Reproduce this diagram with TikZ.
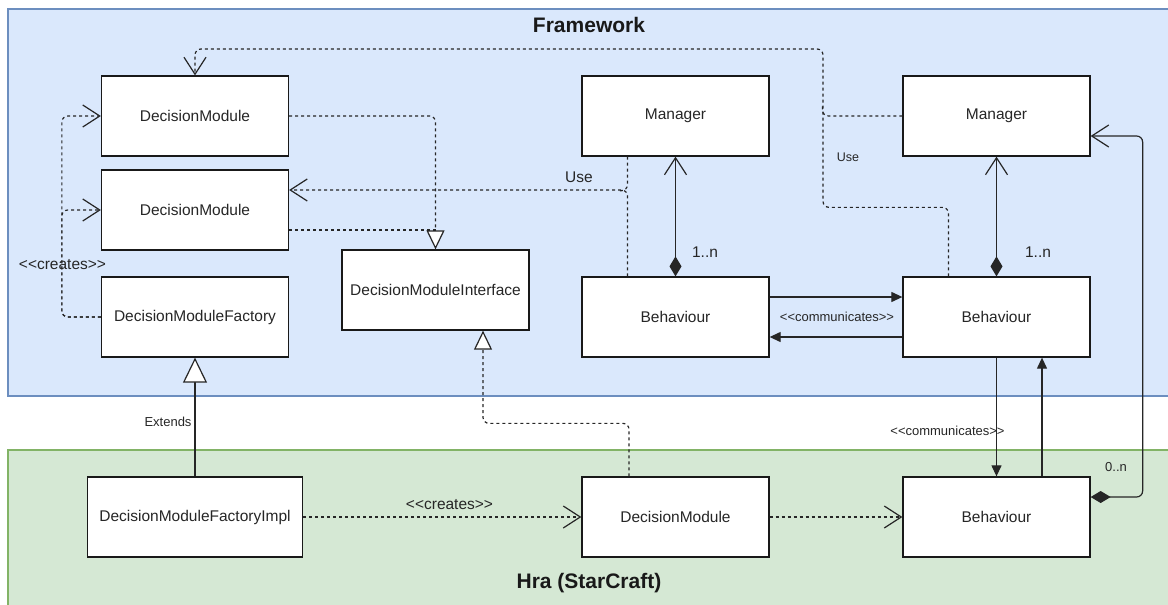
\documentclass[tikz,border=0pt]{standalone}
\usepackage{fontspec}
\setmainfont{Liberation Sans}
\usetikzlibrary{arrows.meta}

\definecolor{fwfill}{HTML}{DAE8FC}
\definecolor{fwline}{HTML}{6C8EBF}
\definecolor{hrafill}{HTML}{D5E8D4}
\definecolor{hraline}{HTML}{82B366}

\tikzset{
	umlopen/.tip={Straight Barb[length=17pt,width=22pt]},
	umlreal/.tip={Triangle[length=19pt,width=18pt,fill=white]},
	umlext/.tip={Triangle[length=25pt,width=24pt,fill=white]},
	umldiam/.tip={Diamond[length=20pt,width=12pt]},
	umlblock/.tip={Triangle[length=11pt,width=10pt]},
	cls/.style={draw=black!90, line width=1.3pt, fill=white, minimum width=187pt, minimum height=80pt, inner sep=0pt, text=black!85, font=\fontsize{15.5}{18}\selectfont},
	title/.style={text=black!90, font=\fontsize{21}{24}\bfseries\selectfont},
	biglbl/.style={text=black!85, inner sep=0pt, font=\fontsize{15.5}{18}\selectfont},
	smalllbl/.style={text=black!85, inner sep=0pt, font=\fontsize{13}{15}\selectfont},
	dep/.style={draw=black!85, dash pattern=on 3pt off 3pt, rounded corners=6pt},
	conn/.style={draw=black!85, rounded corners=6pt}
}

\begin{document}
\begin{tikzpicture}[x=1pt, y=-1pt, line width=1.2pt]
	\useasboundingbox (0,0) rectangle (1168,605);
	\clip (0,0) rectangle (1168,605);

	%containers
	\draw[draw=fwline, fill=fwfill] (8,9) rectangle (1180,396);
	\draw[draw=hraline, fill=hrafill] (8,450) rectangle (1180,620);
	\node[title] (fwtitle) at (589,25) {Framework};
	\node[title] (hratitle) at (589,583) {Hra (StarCraft)};

	%classes
	\node[cls] (dmA)  at (195,116)   {DecisionModule};
	\node[cls] (dmB)  at (195,210)   {DecisionModule};
	\node[cls] (dmf)  at (195,317)   {DecisionModuleFactory};
	\node[cls] (dmi)  at (435.5,290) {DecisionModuleInterface};
	\node[cls] (mgrA) at (675.5,116) {Manager};
	\node[cls] (behA) at (675.5,317) {Behaviour};
	\node[cls] (mgrB) at (996.5,116) {Manager};
	\node[cls] (behB) at (996.5,317) {Behaviour};
	\node[cls, minimum width=215pt] (dmfi) at (195,517) {DecisionModuleFactoryImpl};
	\node[cls] (dmC)  at (675.5,517) {DecisionModule};
	\node[cls] (behC) at (996.5,517) {Behaviour};

	%dependencies
	\draw[dep, -{umlopen}] ([xshift=-48pt]behB.north) -- ++(0,-69) -| (823,49) -| (dmA.north);
	\draw[dep] (mgrB.west) -| ++(-80,-10);
	\draw[dep, -{umlopen}] ([xshift=-48pt]behA.north) |- ([yshift=20pt]dmB.east);
	\draw[dep] ([xshift=-48pt]mgrA.south) |- ++(-10,34);
	\draw[dep, -{umlopen}] (dmf.west) -| ([xshift=-39pt]dmA.west) -- (dmA.west);
	\draw[dep, -{umlopen}] (dmf.west) -| ([xshift=-39pt]dmB.west) -- (dmB.west);
	\draw[dep, -{umlopen}] (dmfi.east) -- (dmC.west);
	\draw[dep, -{umlopen}] (dmC.east) -- (behC.west);

	%realizations
	\draw[dep, -{umlreal}] (dmA.east) -| (dmi.north);
	\draw[dep] ([yshift=-20pt]dmB.east) -- ([yshift=-20pt]dmB.east -| dmi.north);
	\draw[dep, -{umlreal}] ([xshift=-46.5pt]dmC.north) -- ++(0,-53) -| ([xshift=47.5pt]dmi.south);
	\draw[conn, -{umlext}] (dmfi.north) -- (dmf.south);

	%compositions
	\draw[conn, {umldiam}-{umlopen}] (behA.north) -- (mgrA.south);
	\draw[conn, {umldiam}-{umlopen}] (behB.north) -- (mgrB.south);
	\draw[conn, {umldiam}-{umlopen}] ([yshift=20pt]behC.east) -- ++(52,0) |- ([yshift=-20pt]mgrB.east);

	%communication
	\draw[conn, -{umlblock}] ([yshift=20pt]behA.east) -- ([yshift=20pt]behB.west);
	\draw[conn, -{umlblock}] ([yshift=-20pt]behB.west) -- ([yshift=-20pt]behA.east);
	\draw[conn, -{umlblock}] (behB.south) -- (behC.north);
	\draw[conn, -{umlblock}] ([xshift=45.5pt]behC.north) -- ([xshift=45.5pt]behB.south);

	%labels
	\node[biglbl] (useA) at (579,177) {Use};
	\node[smalllbl, font=\fontsize{12.5}{15}\selectfont] (useB) at (848,157) {Use};
	\node[biglbl] (multA) at (705,252) {1..n};
	\node[biglbl] (multB) at (1038,252) {1..n};
	\node[smalllbl] (multC) at (1116,467) {0..n};
	\node[biglbl] (crA) at (62.5,265) {<{}<creates>{}>};
	\node[biglbl] (crB) at (449.5,505) {<{}<creates>{}>};
	\node[smalllbl] (ext) at (168,422) {Extends};
	\node[smalllbl] (comA) at (837,317) {<{}<communicates>{}>};
	\node[smalllbl] (comB) at (947.5,431) {<{}<communicates>{}>};
\end{tikzpicture}
\end{document}
